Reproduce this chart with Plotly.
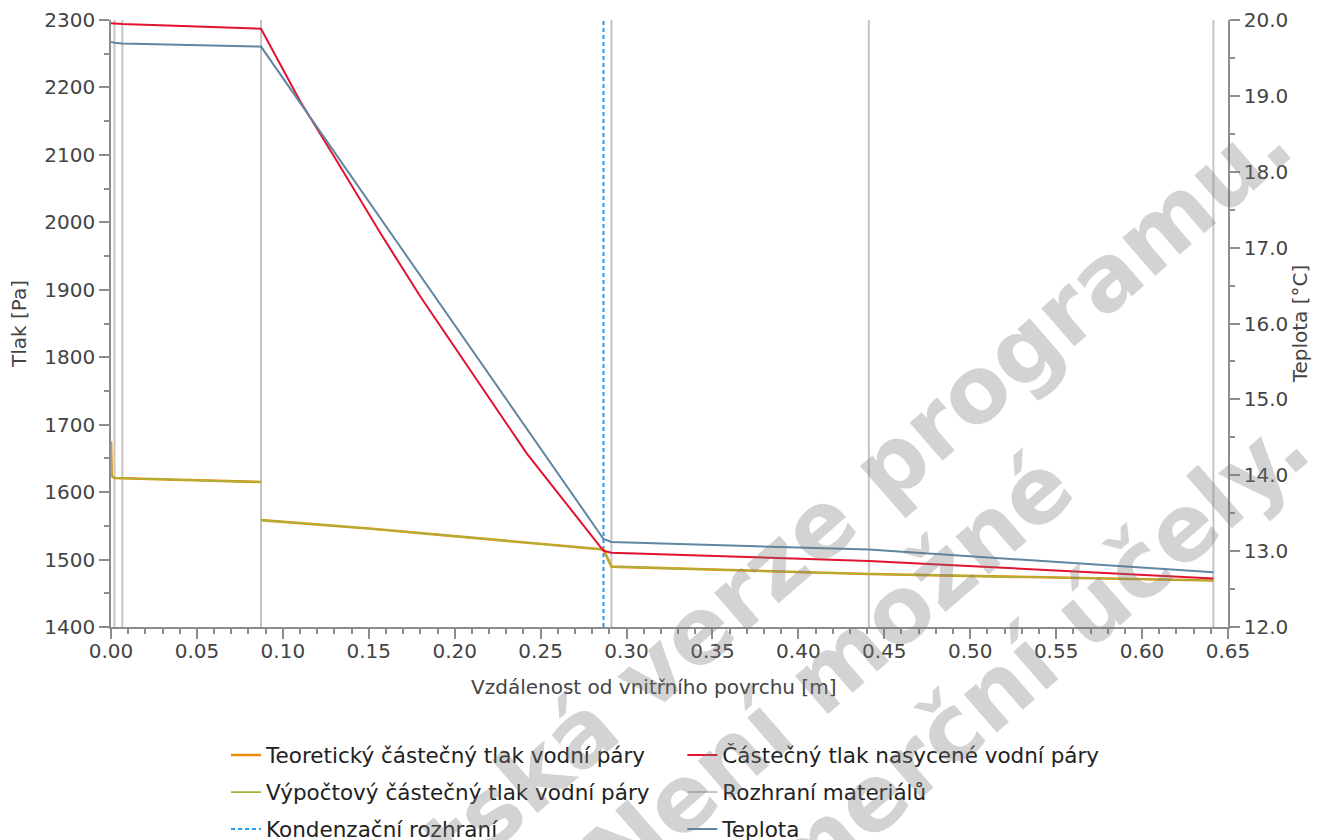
import plotly.graph_objects as go

# distance from inner surface [m]
x_interfaces = [0.002, 0.0066, 0.0873, 0.2912, 0.441, 0.6415]
x_condensation = [0.2866]

# theoretical / computed partial vapour pressure [Pa]
x_vapour = [0.0, 0.0004, 0.002, 0.0066, 0.0873, None, 0.0873, 0.15, 0.2866, 0.2912, 0.441, 0.6415]
p_theoretical = [1675, 1624, 1621, 1620.5, 1615, None, 1558.5, 1546, 1515, 1489.5, 1478.5, 1469]
p_computed = [1675, 1624, 1621, 1620.5, 1615, None, 1558.5, 1546, 1515, 1489.5, 1478.5, 1469]

# saturated vapour pressure [Pa]
x_saturated = [0.0, 0.002, 0.0066, 0.0873, 0.11, 0.13, 0.157, 0.18, 0.209, 0.242, 0.2866, 0.2912, 0.441, 0.6415]
p_saturated = [2295, 2295, 2294, 2287, 2180, 2097, 1983, 1890, 1781, 1657, 1513, 1510, 1498, 1472]

# temperature [°C]
x_temperature = [0.0, 0.002, 0.0066, 0.0873, 0.2866, 0.2912, 0.441, 0.6415]
t_temperature = [19.71, 19.70, 19.69, 19.65, 13.16, 13.12, 13.02, 12.72]

p_range = [1400, 2300]
t_range = [12, 20]

FONT = "DejaVu Sans"
TXT = "#444444"
AX = "#8c8c8c"


def vlines(xs, y0, y1):
    vx, vy = [], []
    for x in xs:
        vx += [x, x, None]
        vy += [y0, y1, None]
    return vx, vy


fig = go.Figure()

ix, iy = vlines(x_interfaces, *p_range)
cx, cy = vlines(x_condensation, *p_range)

fig.add_trace(go.Scatter(x=ix, y=iy, mode="lines", name="Rozhraní materiálů",
                         line=dict(color="#c4c4c4", width=2), legend="legend4"))
fig.add_trace(go.Scatter(x=cx, y=cy, mode="lines", name="Kondenzační rozhraní",
                         line=dict(color="#1e9bf5", width=2, dash="4px,3px"), legend="legend5"))
fig.add_trace(go.Scatter(x=x_vapour, y=p_theoretical, mode="lines",
                         name="Teoretický částečný tlak vodní páry",
                         line=dict(color="#f08a0c", width=2.6), legend="legend"))
fig.add_trace(go.Scatter(x=x_vapour, y=p_computed, mode="lines",
                         name="Výpočtový částečný tlak vodní páry",
                         line=dict(color="#a3b53a", width=1.6), legend="legend3"))
fig.add_trace(go.Scatter(x=x_saturated, y=p_saturated, mode="lines",
                         name="Částečný tlak nasycené vodní páry",
                         line=dict(color="#e3132f", width=2), legend="legend2"))
fig.add_trace(go.Scatter(x=x_temperature, y=t_temperature, mode="lines", name="Teplota",
                         yaxis="y2", line=dict(color="#5f86a3", width=2), legend="legend6"))

axis_common = dict(
    showgrid=False, zeroline=False, showline=True, linecolor=AX, linewidth=1.5,
    ticks="outside", ticklen=10, tickcolor=AX, tickwidth=1.5,
    tickfont=dict(family=FONT, size=20, color=TXT),
)

fig.update_layout(
    width=1320, height=840,
    margin=dict(l=111, r=92, t=20, b=213, autoexpand=False),
    paper_bgcolor="white", plot_bgcolor="white",
    font=dict(family=FONT, size=20, color=TXT),
    xaxis=dict(axis_common, range=[0, 0.65], dtick=0.05, tickformat=".2f",
               ticklabelstandoff=-5,
               minor=dict(dtick=0.01, ticks="outside", ticklen=5, tickcolor=AX)),
    yaxis=dict(axis_common, range=p_range, dtick=100,
               minor=dict(dtick=50, ticks="outside", ticklen=5, tickcolor=AX),
               title=dict(text="Tlak [Pa]", standoff=12,
                          font=dict(family=FONT, size=20, color=TXT))),
    yaxis2=dict(axis_common, range=t_range, dtick=1, tickformat=".1f",
                overlaying="y", side="right",
                minor=dict(dtick=0.5, ticks="outside", ticklen=5, tickcolor=AX),
                title=dict(text="Teplota [°C]", standoff=0,
                           font=dict(family=FONT, size=20, color=TXT))),
    showlegend=True,
)

# x axis title sits a little left of the plot centre in the original
fig.add_annotation(text="Vzdálenost od vnitřního povrchu [m]", xref="paper", yref="paper",
                   x=0.486, y=-0.099, xanchor="center", yanchor="middle", showarrow=False,
                   font=dict(family=FONT, size=20, color=TXT))

# legends laid out as two columns, three rows
col_x = [0.103, 0.5115]
row_y = [-0.211, -0.272, -0.333]
legend_pos = {
    "legend": (col_x[0], row_y[0]), "legend2": (col_x[1], row_y[0]),
    "legend3": (col_x[0], row_y[1]), "legend4": (col_x[1], row_y[1]),
    "legend5": (col_x[0], row_y[2]), "legend6": (col_x[1], row_y[2]),
}
for name, (lx, ly) in legend_pos.items():
    fig.update_layout({name: dict(x=lx, y=ly, xanchor="left", yanchor="middle",
                                  bgcolor="rgba(0,0,0,0)",
                                  font=dict(family=FONT, size=21.5, color="#222222"))})

# watermark
wm_lines = [
    ("Studentská verze programu.", 0.5433, 0.0198),
    ("Není možné", 0.6426, -0.0725),
    ("použít pro komerční účely.", 0.5966, -0.4195),
]
for text, ax_, ay_ in wm_lines:
    fig.add_annotation(text=text, xref="paper", yref="paper", x=ax_, y=ay_,
                       xanchor="center", yanchor="middle", showarrow=False,
                       textangle=-41,
                       font=dict(family=FONT, size=92, color="rgba(120,120,120,0.33)",
                                 weight="bold"))

# page without the default body margin, so the figure sits at the window's corner
fig.write_html("out.html", config={"displayModeBar": False},
               post_script="document.body.style.margin='0px';")
